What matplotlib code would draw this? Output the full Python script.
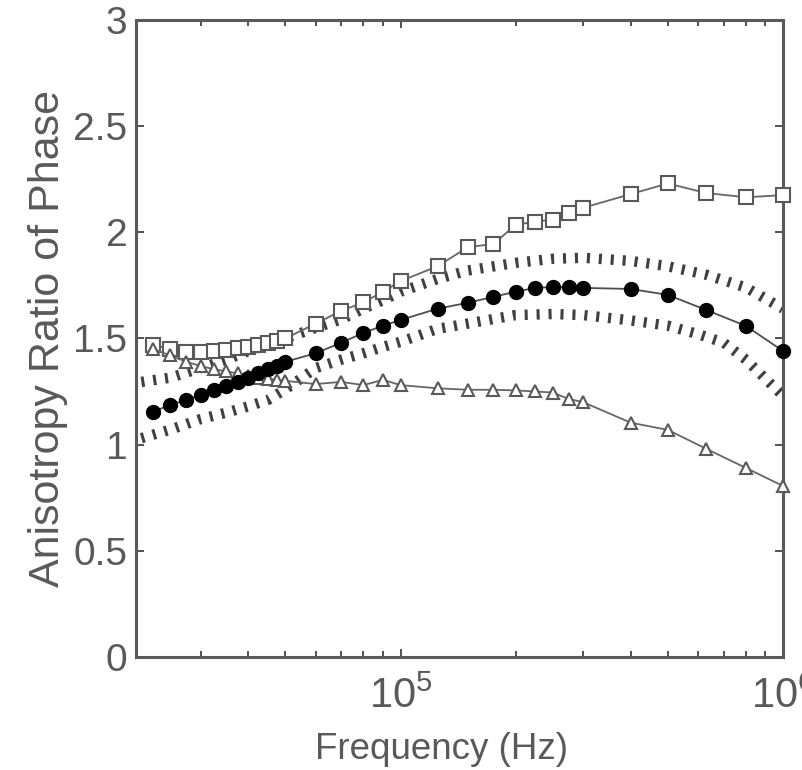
import matplotlib
matplotlib.use("Agg")
import matplotlib.pyplot as plt
import matplotlib.ticker as mticker
import numpy as np

plt.rcParams["font.family"] = ["Liberation Sans", "DejaVu Sans"]
plt.rcParams["mathtext.fontset"] = "custom"
plt.rcParams["mathtext.rm"] = "Liberation Sans"
plt.rcParams["mathtext.default"] = "regular"
plt.rcParams["lines.scale_dashes"] = False

TEXT_GRAY = "0.35"

# measurement frequencies (Hz), shared by the three marker series
freq = np.array([22.5, 25, 27.5, 30, 32.5, 35, 37.5, 40, 42.5, 45, 47.5, 50,
                 60, 70, 80, 90, 100, 125, 150, 175, 200, 225, 250, 275, 300,
                 400, 500, 630, 800, 1000]) * 1e3

ratio_square = [1.47, 1.45, 1.435, 1.435, 1.44, 1.445, 1.455, 1.46, 1.47, 1.48, 1.49, 1.50,
                1.57, 1.63, 1.67, 1.72, 1.77, 1.84, 1.93, 1.945, 2.035, 2.05, 2.06, 2.09, 2.115,
                2.18, 2.23, 2.185, 2.165, 2.175]
ratio_circle = [1.154, 1.187, 1.21, 1.234, 1.255, 1.275, 1.295, 1.315, 1.335, 1.355, 1.37, 1.39,
                1.43, 1.48, 1.526, 1.56, 1.587, 1.64, 1.668, 1.696, 1.72, 1.738, 1.742, 1.742, 1.738,
                1.733, 1.705, 1.634, 1.559, 1.441]
ratio_triangle = [1.45, 1.42, 1.39, 1.37, 1.355, 1.345, 1.335, 1.325, 1.315, 1.31, 1.305, 1.30,
                  1.285, 1.295, 1.28, 1.305, 1.28, 1.265, 1.258, 1.258, 1.255, 1.25, 1.245, 1.215, 1.20,
                  1.103, 1.069, 0.98, 0.89, 0.805]

# dotted bounds around the filled-circle series
upper_freq = np.array([21, 25, 30, 35, 40, 50, 60, 70, 80, 90, 100, 125, 150, 200, 250,
                       300, 400, 500, 630, 800, 1000]) * 1e3
upper_ratio = [1.295, 1.315, 1.36, 1.40, 1.44, 1.50, 1.55, 1.59, 1.64, 1.68, 1.72, 1.78, 1.82,
               1.856, 1.875, 1.88, 1.865, 1.84, 1.80, 1.74, 1.64]
lower_freq = np.array([21, 25, 30, 35, 40, 45, 50, 60, 70, 80, 90, 100, 125, 150, 200, 250,
                       300, 400, 500, 600, 700, 800, 900, 1000]) * 1e3
lower_ratio = [1.03, 1.07, 1.12, 1.15, 1.18, 1.21, 1.26, 1.36, 1.40, 1.43, 1.46, 1.484, 1.545,
               1.57, 1.61, 1.615, 1.61, 1.585, 1.56, 1.52, 1.48, 1.40, 1.31, 1.23]

fig = plt.figure(figsize=(8.03, 7.70), dpi=100)
ax = fig.add_axes([0.169, 0.147, 0.806, 0.827])

for fx, fy in [(upper_freq, upper_ratio), (lower_freq, lower_ratio)]:
    ln, = ax.plot(fx, fy, color="0.25", lw=7.5, zorder=1)
    ln.set_dashes((2.2, 6.4))
    ln.set_dash_capstyle("butt")

ax.plot(freq, ratio_square, color="0.4", lw=1.3, marker="s", ms=9.5,
        mfc="white", mec="0.35", mew=1.5, zorder=3, clip_on=False)
ax.plot(freq, ratio_triangle, color="0.4", lw=1.3, marker="^", ms=9,
        mfc="white", mec="0.35", mew=1.5, zorder=3, clip_on=False)
ax.plot(freq, ratio_circle, color="0.3", lw=1.3, marker="o", ms=10,
        mfc="black", mec="black", zorder=4, clip_on=False)

ax.set_xscale("log")
ax.set_xlim(2.03e4, 1e6)
ax.set_ylim(0, 3)
ax.set_yticks(np.arange(0, 3.01, 0.5))
ax.yaxis.set_major_formatter(mticker.FuncFormatter(lambda v, _: f"{v:g}"))
ax.xaxis.set_major_locator(mticker.LogLocator(base=10, numticks=10))
ax.xaxis.set_minor_locator(mticker.LogLocator(base=10, subs=np.arange(2, 10), numticks=20))
ax.xaxis.set_minor_formatter(mticker.NullFormatter())

ax.tick_params(which="both", direction="in", top=True, right=True,
               colors="0.2", labelcolor=TEXT_GRAY, width=1.2)
ax.tick_params(which="major", length=6)
ax.tick_params(which="minor", length=4)
ax.tick_params(axis="y", labelsize=28, pad=6)
ax.tick_params(axis="x", labelsize=30, pad=14)
for sp in ax.spines.values():
    sp.set_linewidth(2.2)
    sp.set_color("0.35")

ax.set_xlabel("Frequency (Hz)", fontsize=26.5, color=TEXT_GRAY, labelpad=2)
ax.xaxis.set_label_coords(0.472, -0.118)
ax.set_ylabel("Anisotropy Ratio of Phase", fontsize=31, color=TEXT_GRAY, labelpad=4)

fig.savefig("out.png", dpi=100)
